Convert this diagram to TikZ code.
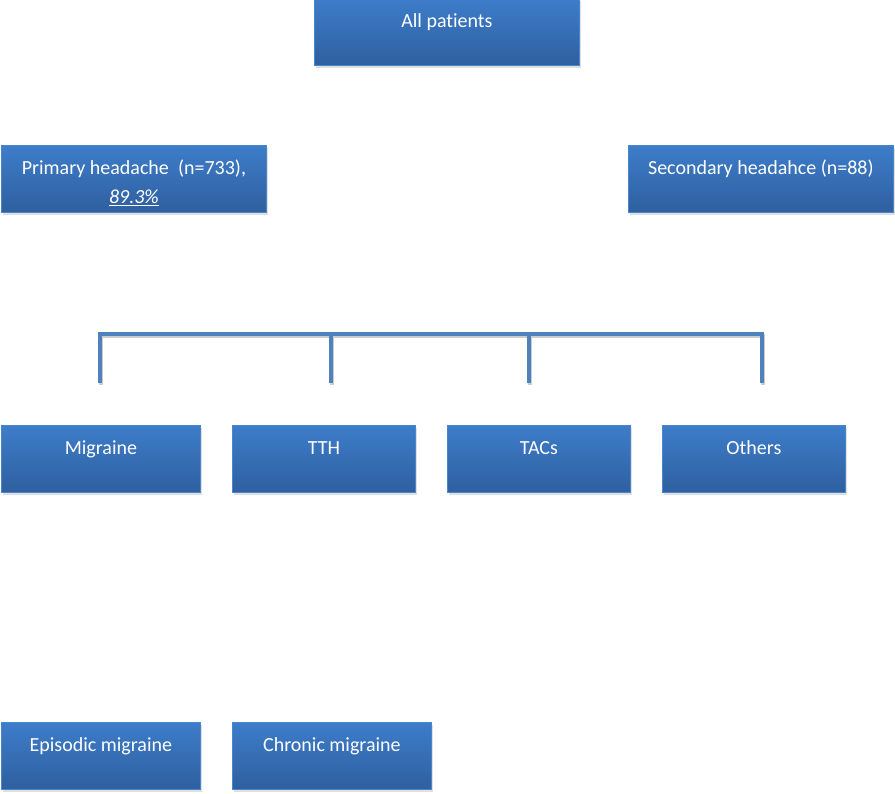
\documentclass[tikz,border=0pt]{standalone}
\usepackage{fontspec}
\setmainfont[Ligatures=NoCommon]{Carlito}
\usetikzlibrary{shadows}

\definecolor{boxtop}{HTML}{3D7DCA}
\definecolor{boxbot}{HTML}{2F5F9F}
\definecolor{boxedge}{HTML}{4A86CC}
\definecolor{brk}{HTML}{4F81BD}

\tikzset{
  box/.style={draw=boxedge, line width=0.8pt, top color=boxtop, bottom color=boxbot,
    anchor=north west, minimum height=67pt, inner xsep=0pt, inner ysep=0pt,
    text height=29pt, text depth=38pt, text=white, align=center,
    font=\fontsize{20}{29}\selectfont,
    drop shadow={shadow xshift=1.5pt, shadow yshift=-3pt, opacity=0.25}},
  brace/.style={draw=brk, line width=4pt,
    preaction={draw=black!20, line width=4pt, transform canvas={xshift=1pt, yshift=-2pt}}}
}

\begin{document}
\begin{tikzpicture}[x=1pt, y=-1pt]
\useasboundingbox (0,0) rectangle (895,794);

\coordinate (ALL) at (314,-2);
\coordinate (PRI) at (1,145);
\coordinate (SEC) at (628,145);
\coordinate (MIG) at (1,425);
\coordinate (TTH) at (232,425);
\coordinate (TAC) at (447,425);
\coordinate (OTH) at (662,425);
\coordinate (EPI) at (1,722);
\coordinate (CHR) at (232,722);

\node[box, minimum width=265pt] (all) at (ALL) {All patients};
\node[box, minimum width=265pt, text height=58pt, text depth=9pt] (pri) at (PRI)
  {Primary headache~~(n=733),\\ \underline{\textit{89.3\%}}};
\node[box, minimum width=265pt] (sec) at (SEC) {Secondary headahce (n=88)};

% bracket over the four groups
\coordinate (B1) at (100,383);
\coordinate (B2) at (331,383);
\coordinate (B3) at (529,383);
\coordinate (B4) at (762,383);
\coordinate (T1) at (100,334);
\coordinate (T2) at (331,334);
\coordinate (T3) at (529,334);
\coordinate (T4) at (762,334);

\draw[brace] (B1) -- (T1) -- (T4) -- (B4);
\draw[brace] (T2) -- (B2);
\draw[brace] (T3) -- (B3);

\node[box, minimum width=199pt] (mig) at (MIG) {Migraine};
\node[box, minimum width=183pt] (tth) at (TTH) {TTH};
\node[box, minimum width=183pt] (tac) at (TAC) {TACs};
\node[box, minimum width=183pt] (oth) at (OTH) {Others};

\node[box, minimum width=199pt] (epi) at (EPI) {Episodic migraine};
\node[box, minimum width=199pt] (chr) at (CHR) {Chronic migraine};
\end{tikzpicture}
\end{document}
